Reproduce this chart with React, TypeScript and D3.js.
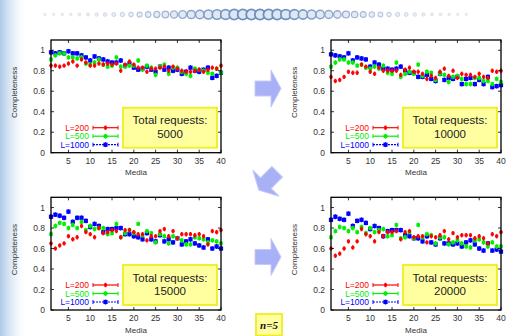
import React from 'react';
import * as d3 from 'd3';

const MEDIA = [1,2,3,4,5,6,7,8,9,10,11,12,13,14,15,16,17,18,19,20,21,22,23,24,25,26,27,28,29,30,31,32,33,34,35,36,37,38,39,40];
const X_TICKS = [5,10,15,20,25,30,35,40];
const Y_TICKS = [0,0.2,0.4,0.6,0.8,1];
const Y_TICK_LABELS = ['0','0.2','0.4','0.6','0.8','1'];
const LEGEND = ['L=200','L=500','L=1000'];
const TOTALS = ['5000','10000','15000','20000'];
const X_LABEL = 'Media';
const Y_LABEL = 'Completeness';
const BOX_TITLE = 'Total requests:';
const NOTE = 'n=5';

// Total requests 5000
const T5000_L200 = [0.85,0.85,0.84,0.85,0.87,0.89,0.85,0.91,0.88,0.85,0.85,0.87,0.86,0.87,0.86,0.87,0.80,0.86,0.89,0.86,0.83,0.83,0.79,0.82,0.82,0.83,0.84,0.80,0.84,0.82,0.80,0.79,0.79,0.80,0.81,0.79,0.81,0.83,0.82,0.85];
const T5000_L500 = [0.91,0.95,0.97,0.97,0.93,0.93,0.92,0.93,0.87,0.86,0.88,0.91,0.86,0.84,0.85,0.93,0.84,0.84,0.85,0.85,0.90,0.81,0.85,0.83,0.76,0.84,0.86,0.77,0.83,0.83,0.79,0.77,0.75,0.82,0.81,0.80,0.78,0.77,0.82,0.78];
const T5000_L1000 = [0.98,0.97,0.98,0.97,0.99,0.97,0.97,0.95,0.93,0.90,0.94,0.92,0.91,0.89,0.88,0.88,0.90,0.85,0.87,0.83,0.81,0.82,0.84,0.81,0.79,0.84,0.81,0.83,0.80,0.81,0.77,0.79,0.83,0.80,0.79,0.81,0.83,0.73,0.75,0.78];
// Total requests 10000
const T10000_L200 = [0.74,0.70,0.71,0.74,0.79,0.78,0.78,0.86,0.84,0.79,0.77,0.83,0.80,0.80,0.80,0.80,0.76,0.81,0.83,0.79,0.79,0.77,0.72,0.75,0.73,0.79,0.82,0.75,0.80,0.73,0.77,0.76,0.76,0.74,0.77,0.74,0.73,0.80,0.79,0.80];
const T10000_L500 = [0.84,0.88,0.91,0.91,0.88,0.88,0.85,0.86,0.83,0.82,0.84,0.82,0.85,0.78,0.77,0.88,0.74,0.77,0.79,0.77,0.86,0.75,0.79,0.78,0.71,0.77,0.76,0.69,0.74,0.75,0.72,0.67,0.67,0.73,0.73,0.70,0.70,0.67,0.72,0.69];
const T10000_L1000 = [0.96,0.95,0.94,0.93,0.97,0.90,0.93,0.92,0.91,0.84,0.88,0.86,0.82,0.82,0.81,0.82,0.84,0.80,0.78,0.78,0.74,0.74,0.76,0.72,0.70,0.77,0.71,0.73,0.72,0.74,0.67,0.72,0.73,0.67,0.71,0.67,0.74,0.64,0.65,0.66];
// Total requests 15000
const T15000_L200 = [0.65,0.60,0.63,0.65,0.72,0.69,0.71,0.82,0.76,0.74,0.71,0.80,0.75,0.76,0.78,0.77,0.71,0.78,0.78,0.76,0.74,0.74,0.68,0.72,0.72,0.77,0.79,0.72,0.77,0.70,0.74,0.74,0.74,0.73,0.74,0.72,0.64,0.77,0.76,0.78];
const T15000_L500 = [0.74,0.82,0.85,0.84,0.80,0.83,0.80,0.86,0.78,0.82,0.79,0.80,0.80,0.74,0.75,0.84,0.71,0.75,0.78,0.75,0.84,0.73,0.77,0.75,0.66,0.74,0.72,0.65,0.72,0.70,0.68,0.64,0.64,0.71,0.70,0.69,0.66,0.68,0.67,0.65];
const T15000_L1000 = [0.91,0.93,0.92,0.90,0.96,0.86,0.90,0.90,0.87,0.81,0.84,0.82,0.76,0.79,0.79,0.80,0.80,0.74,0.74,0.72,0.71,0.69,0.75,0.69,0.67,0.73,0.67,0.69,0.66,0.70,0.64,0.67,0.69,0.65,0.63,0.61,0.69,0.60,0.62,0.60];
// Total requests 20000
const T20000_L200 = [0.60,0.53,0.55,0.60,0.67,0.61,0.67,0.79,0.74,0.72,0.67,0.76,0.72,0.76,0.76,0.77,0.69,0.76,0.77,0.71,0.72,0.72,0.66,0.72,0.71,0.73,0.77,0.69,0.75,0.71,0.73,0.73,0.73,0.70,0.72,0.70,0.65,0.74,0.72,0.76];
const T20000_L500 = [0.71,0.77,0.81,0.80,0.77,0.80,0.76,0.81,0.75,0.80,0.76,0.78,0.79,0.72,0.73,0.83,0.70,0.71,0.76,0.70,0.83,0.71,0.74,0.73,0.65,0.71,0.71,0.64,0.66,0.68,0.65,0.62,0.61,0.68,0.69,0.66,0.62,0.66,0.62,0.62];
const T20000_L1000 = [0.88,0.91,0.89,0.88,0.94,0.82,0.87,0.88,0.85,0.79,0.82,0.80,0.72,0.77,0.78,0.78,0.78,0.73,0.72,0.70,0.70,0.67,0.72,0.66,0.64,0.70,0.65,0.65,0.64,0.65,0.62,0.66,0.68,0.64,0.60,0.58,0.65,0.58,0.59,0.57];

const COLORS = ['#ff0000', '#00ee00', '#0000ff'];
const FONT = '"Liberation Sans", Arial, Helvetica, sans-serif';

const PW = 170;
const PH = 112.7;

const PANELS = [
  { left: 51, top: 40, total: TOTALS[0], series: [T5000_L200, T5000_L500, T5000_L1000] },
  { left: 331, top: 40, total: TOTALS[1], series: [T10000_L200, T10000_L500, T10000_L1000] },
  { left: 51, top: 197.3, total: TOTALS[2], series: [T15000_L200, T15000_L500, T15000_L1000] },
  { left: 331, top: 197.3, total: TOTALS[3], series: [T20000_L200, T20000_L500, T20000_L1000] },
];

function Marker({ cx, cy, i }: { cx: number; cy: number; i: number }) {
  const c = COLORS[i];
  if (i === 0) {
    return (
      <g>
        <line x1={cx} x2={cx} y1={cy - 2.2} y2={cy + 2.2} stroke={c} strokeWidth={1.6} />
        <line x1={cx - 1.6} x2={cx + 1.6} y1={cy} y2={cy} stroke={c} strokeWidth={1.4} />
        <rect x={cx - 1.5} y={cy - 1.5} width={3} height={3} fill={c} opacity={0.8} />
      </g>
    );
  }
  const s = i === 1 ? 3.6 : 4.2;
  return (
    <g>
      <line x1={cx} x2={cx} y1={cy - 2.4} y2={cy + 2.4} stroke={c} strokeWidth={1.2} />
      <rect x={cx - s / 2} y={cy - s / 2} width={s} height={s} fill={c} />
    </g>
  );
}

function Panel({ left, top, total, series }: { left: number; top: number; total: string; series: number[][] }) {
  const x = d3.scaleLinear().domain([1, 40]).range([left, left + PW]);
  const y = d3.scaleLinear().domain([0, 1.1]).range([top + PH, top]);
  const bottom = top + PH;
  const right = left + PW;
  const boxW = 94, boxH = 40;
  const bx = right - 4 - boxW, by = bottom - 5 - boxH;
  const legendY = [bottom - 25, bottom - 16.5, bottom - 8];
  const lx1 = left + 42, lx2 = left + 67;
  return (
    <g>
      {/* data */}
      {[2, 1, 0].map((si) => (
        <g key={si}>
          {series[si].map((v, k) => (
            <Marker key={k} cx={x(MEDIA[k])} cy={y(v)} i={si} />
          ))}
        </g>
      ))}
      {/* frame */}
      <rect x={left} y={top} width={PW} height={PH} fill="none" stroke="#000" strokeWidth={1.3} />
      {X_TICKS.map((t) => (
        <g key={'x' + t}>
          <line x1={x(t)} x2={x(t)} y1={bottom} y2={bottom - 3} stroke="#000" strokeWidth={0.8} />
          <line x1={x(t)} x2={x(t)} y1={top} y2={top + 3} stroke="#000" strokeWidth={0.8} />
          <text x={x(t)} y={bottom + 11} textAnchor="middle" fontSize={8.5} fill="#333" fontFamily={FONT}>{t}</text>
        </g>
      ))}
      {Y_TICKS.map((t, k) => (
        <g key={'y' + t}>
          <line x1={left} x2={left + 3} y1={y(t)} y2={y(t)} stroke="#000" strokeWidth={0.8} />
          <line x1={right} x2={right - 3} y1={y(t)} y2={y(t)} stroke="#000" strokeWidth={0.8} />
          <text x={left - 6} y={y(t) + 3} textAnchor="end" fontSize={8.5} fill="#333" fontFamily={FONT}>{Y_TICK_LABELS[k]}</text>
        </g>
      ))}
      <text x={left + PW / 2} y={bottom + 22.5} textAnchor="middle" fontSize={8} fill="#333" fontFamily={FONT}>{X_LABEL}</text>
      <text transform={`translate(${left - 34},${top + PH / 2 - 4}) rotate(-90)`} textAnchor="middle" fontSize={8} fill="#333" fontFamily={FONT}>{Y_LABEL}</text>
      {/* legend */}
      {LEGEND.map((l, i) => (
        <g key={l}>
          <text x={left + 38} y={legendY[i] + 3} textAnchor="end" fontSize={8.5} fill={COLORS[i]} fontFamily={FONT}>{l}</text>
          <line x1={lx1} x2={lx2} y1={legendY[i]} y2={legendY[i]} stroke={COLORS[i]} strokeWidth={1.2} strokeDasharray={i === 2 ? '2,1' : undefined} />
          <line x1={lx1} x2={lx1} y1={legendY[i] - 2} y2={legendY[i] + 2} stroke={COLORS[i]} strokeWidth={1} />
          <line x1={lx2} x2={lx2} y1={legendY[i] - 2} y2={legendY[i] + 2} stroke={COLORS[i]} strokeWidth={1} />
          <Marker cx={(lx1 + lx2) / 2} cy={legendY[i]} i={i} />
        </g>
      ))}
      {/* box */}
      <rect x={bx} y={by} width={boxW} height={boxH} fill="#ffffa0" stroke="#eeee20" strokeWidth={1.8} />
      <text x={bx + boxW / 2} y={by + 12.7 + 4} textAnchor="middle" fontSize={11.5} fill="#222" fontFamily={FONT}>{BOX_TITLE}</text>
      <text x={bx + boxW / 2} y={by + 26.3 + 4} textAnchor="middle" fontSize={11.5} fill="#222" fontFamily={FONT}>{total}</text>
    </g>
  );
}

function Arrow({ cx, cy, angle }: { cx: number; cy: number; angle: number }) {
  // right-pointing arrow centred at 0,0, length 26
  const d = 'M-13,-7.5 L3,-7.5 L3,-18.5 L13,0 L3,18.5 L3,7.5 L-13,7.5 Z';
  return (
    <path d={d} transform={`translate(${cx},${cy}) rotate(${angle})`} fill="#a9b1f6" stroke="#c4caf9" strokeWidth={1} />
  );
}

export default function App() {
  const dots = d3.range(0, 50).map((k) => {
    const cx = 45 + k * 8.6;
    const w = Math.exp(-Math.pow((cx - 258) / 120, 2));
    return { cx, r: 1 + 4.2 * w, w };
  });
  return (
    <svg width={511} height={336} style={{ position: 'absolute', left: 0, top: 0, background: '#fff' }}>
      <defs>
        <linearGradient id="lg" x1="0" x2="1" y1="0" y2="0">
          <stop offset="0" stopColor="#9fbfe3" stopOpacity={0.85} />
          <stop offset="0.45" stopColor="#c5daf0" stopOpacity={0.5} />
          <stop offset="1" stopColor="#ffffff" stopOpacity={0} />
        </linearGradient>
      </defs>
      <rect x={0} y={0} width={511} height={336} fill="#fff" />
      <rect x={0} y={0} width={28} height={336} fill="url(#lg)" />
      {dots.map((d, k) => (
        <circle key={k} cx={d.cx} cy={14.5} r={d.r} fill={d3.interpolateRgb('#eef1f5', '#dde6f3')(d.w)}
          stroke={d3.interpolateRgb('#dfe3e8', '#6d8fc0')(d.w)} strokeWidth={0.6 + 1.2 * d.w} />
      ))}
      {PANELS.map((p, i) => (
        <Panel key={i} left={p.left} top={p.top} total={p.total} series={p.series} />
      ))}
      <Arrow cx={268} cy={88.5} angle={0} />
      <Arrow cx={268} cy={181} angle={135} />
      <Arrow cx={268} cy={257} angle={0} />
      <rect x={256} y={314} width={26} height={21.5} fill="#ffffa0" stroke="#eeee20" strokeWidth={1.8} />
      <text x={269} y={328.5} textAnchor="middle" fontSize={11} fontStyle="italic" fontWeight="bold" fill="#111" fontFamily='"Liberation Serif", "Times New Roman", serif'>{NOTE}</text>
    </svg>
  );
}
